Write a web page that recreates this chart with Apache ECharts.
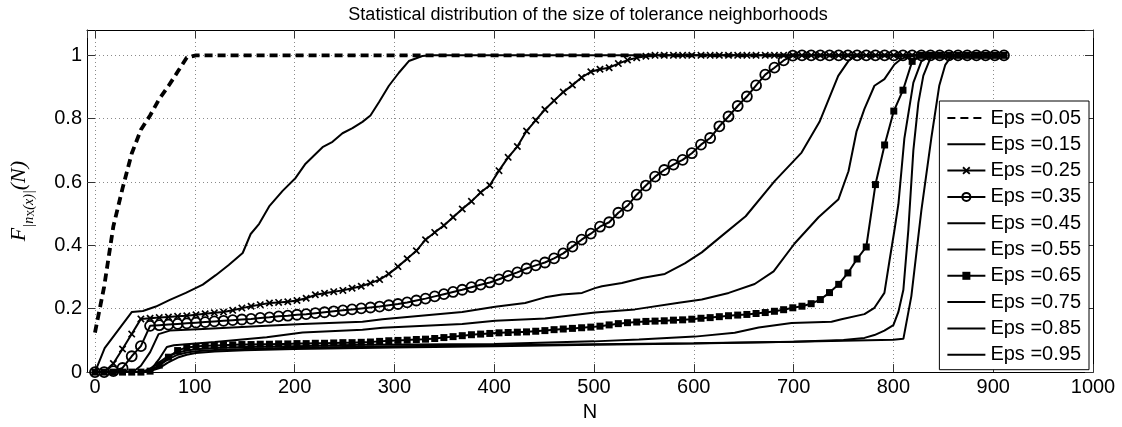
<!DOCTYPE html>
<html><head><meta charset="utf-8">
<script src="https://cdn.jsdelivr.net/npm/echarts@6/dist/echarts.min.js"></script>
<style>html,body{margin:0;padding:0;background:#fff}#c{width:1122px;height:427px}</style>
</head><body><div id="c"></div>
<script>
// Common sample grid of N (used by the marked series)
const N_GRID = [0, 9.2, 18.4, 27.6, 36.8, 46, 55.2, 64.4, 73.6, 82.8,
  92, 101.2, 110.4, 119.6, 128.8, 138, 147.2, 156.4, 165.6, 174.8,
  184, 193.2, 202.4, 211.6, 220.8, 230, 239.2, 248.4, 257.6, 266.8,
  276, 285.2, 294.4, 303.6, 312.8, 322, 331.2, 340.4, 349.6, 358.8,
  368, 377.2, 386.4, 395.6, 404.8, 414, 423.2, 432.4, 441.6, 450.8,
  460, 469.2, 478.4, 487.6, 496.8, 506, 515.2, 524.4, 533.6, 542.8,
  552, 561.2, 570.4, 579.6, 588.8, 598, 607.2, 616.4, 625.6, 634.8,
  644, 653.2, 662.4, 671.6, 680.8, 690, 699.2, 708.4, 717.6, 726.8,
  736, 745.2, 754.4, 763.6, 772.8, 782, 791.2, 800.4, 809.6, 818.8,
  828, 837.2, 846.4, 855.6, 864.8, 874, 883.2, 892.4, 901.6, 910.8];

const LEGEND_LABELS = ['Eps =0.05', 'Eps =0.15', 'Eps =0.25', 'Eps =0.35', 'Eps =0.45',
  'Eps =0.55', 'Eps =0.65', 'Eps =0.75', 'Eps =0.85', 'Eps =0.95'];

// [N, F] pairs for the plain line series
const F_005 = [[0, 0.125], [9.2, 0.27], [18.4, 0.46], [27.6, 0.58], [36.8, 0.69], [46, 0.765],
  [55.2, 0.81], [64.4, 0.862], [73.6, 0.903], [82.8, 0.948], [92, 0.993], [101.2, 1], [910.8, 1]];

const F_015 = [[0, 0], [9.7, 0.076], [37, 0.19], [48, 0.193], [61, 0.207], [75, 0.228], [91, 0.25],
  [108, 0.276], [121, 0.306], [134, 0.338], [148, 0.376], [156, 0.436], [164.5, 0.468], [174.5, 0.523],
  [188, 0.572], [201, 0.613], [211, 0.658], [228, 0.71], [238, 0.727], [248, 0.754], [258, 0.77],
  [268, 0.79], [276, 0.81], [284.5, 0.852], [294.5, 0.904], [304.5, 0.945], [314.5, 0.982],
  [328, 0.998], [336, 1], [910.8, 1]];

// values on N_GRID for the marked series
const F_025 = [0, 0, 0.027, 0.073, 0.12, 0.168, 0.170, 0.172, 0.174, 0.176,
  0.178, 0.181, 0.184, 0.187, 0.19, 0.195, 0.202, 0.208, 0.213, 0.218,
  0.220, 0.222, 0.226, 0.233, 0.244, 0.249, 0.254, 0.258, 0.265, 0.271,
  0.281, 0.292, 0.310, 0.333, 0.358, 0.383, 0.418, 0.441, 0.463, 0.489,
  0.515, 0.539, 0.567, 0.59, 0.636, 0.678, 0.712, 0.761, 0.795, 0.829,
  0.857, 0.884, 0.906, 0.93, 0.948, 0.956, 0.961, 0.974, 0.985, 0.992,
  0.997, 1, 1, 1, 1, 1, 1, 1, 1, 1,
  1, 1, 1, 1, 1, 1, 1, 1, 1, 1,
  1, 1, 1, 1, 1, 1, 1, 1, 1, 1,
  1, 1, 1, 1, 1, 1, 1, 1, 1, 1];

const F_035 = [0, 0, 0.003, 0.013, 0.05, 0.082, 0.146, 0.148, 0.150, 0.152,
  0.154, 0.156, 0.158, 0.160, 0.162, 0.164, 0.166, 0.168, 0.171, 0.173,
  0.176, 0.178, 0.181, 0.183, 0.186, 0.189, 0.192, 0.195, 0.198, 0.201,
  0.204, 0.207, 0.211, 0.215, 0.220, 0.226, 0.232, 0.239, 0.246, 0.253,
  0.260, 0.268, 0.276, 0.283, 0.293, 0.304, 0.315, 0.327, 0.337, 0.346,
  0.359, 0.375, 0.396, 0.418, 0.437, 0.459, 0.473, 0.503, 0.525, 0.560,
  0.589, 0.617, 0.638, 0.655, 0.670, 0.691, 0.718, 0.739, 0.776, 0.807,
  0.840, 0.870, 0.905, 0.939, 0.961, 0.984, 0.999, 1, 1, 1,
  1, 1, 1, 1, 1, 1, 1, 1, 1, 1,
  1, 1, 1, 1, 1, 1, 1, 1, 1, 1];

const F_045 = [[0, 0], [27.6, 0], [38.7, 0.002], [46, 0.02], [55.3, 0.063], [63.7, 0.12], [75, 0.131],
  [108, 0.136], [172, 0.146], [208, 0.152], [268, 0.159], [288, 0.167], [368, 0.19], [401, 0.206],
  [431, 0.218], [451, 0.236], [468, 0.245], [488, 0.25], [501, 0.265], [508, 0.271], [528, 0.281],
  [548, 0.297], [571, 0.31], [591, 0.343], [608, 0.378], [628, 0.43], [652, 0.492], [681, 0.603],
  [708, 0.693], [726, 0.79], [744.7, 0.935], [754.7, 0.981], [761, 0.999], [770, 1], [910.8, 1]];

const F_055 = [[0, 0], [46, 0], [55, 0.003], [64, 0.04], [72, 0.079], [79, 0.085], [120, 0.095],
  [172, 0.11], [208, 0.125], [268, 0.134], [288, 0.14], [368, 0.152], [401, 0.162], [451, 0.169],
  [501, 0.188], [541, 0.198], [585, 0.219], [608, 0.229], [635, 0.25], [661, 0.278], [680, 0.318],
  [701, 0.406], [725, 0.489], [745, 0.546], [755, 0.634], [763, 0.759], [771, 0.831], [781, 0.904],
  [791, 0.925], [801, 0.971], [808, 0.989], [815, 0.997], [822, 1], [910.8, 1]];

const F_065 = [0, 0, 0, 0, 0, 0, 0.003, 0.022, 0.047, 0.068,
  0.078, 0.081, 0.083, 0.084, 0.085, 0.086, 0.087, 0.087, 0.088, 0.088,
  0.089, 0.089, 0.090, 0.090, 0.091, 0.091, 0.092, 0.093, 0.093, 0.094,
  0.095, 0.097, 0.099, 0.100, 0.101, 0.103, 0.104, 0.106, 0.109, 0.112,
  0.115, 0.118, 0.120, 0.122, 0.124, 0.125, 0.126, 0.127, 0.129, 0.131,
  0.134, 0.136, 0.138, 0.140, 0.142, 0.145, 0.149, 0.153, 0.156, 0.158,
  0.160, 0.161, 0.162, 0.164, 0.165, 0.167, 0.170, 0.172, 0.175, 0.178,
  0.180, 0.182, 0.185, 0.188, 0.192, 0.197, 0.203, 0.208, 0.216, 0.229,
  0.251, 0.277, 0.313, 0.357, 0.395, 0.592, 0.717, 0.824, 0.890, 0.981,
  1, 1, 1, 1, 1, 1, 1, 1, 1, 1];

const F_075 = [[0, 0], [46, 0], [55, 0.01], [64, 0.03], [73, 0.05], [83, 0.062], [92, 0.068],
  [101, 0.072], [120, 0.076], [150, 0.079], [200, 0.082], [268, 0.086], [400, 0.089], [500, 0.097],
  [545, 0.103], [601, 0.112], [641, 0.124], [665, 0.141], [698, 0.155], [738, 0.159], [748, 0.167],
  [771, 0.183], [781, 0.203], [791, 0.25], [796, 0.35], [801, 0.447], [805, 0.53], [811, 0.738],
  [820, 0.914], [828, 0.981], [838, 1], [910.8, 1]];

const F_085 = [[0, 0], [46, 0], [55, 0.005], [64, 0.02], [73, 0.04], [83, 0.055], [92, 0.062],
  [101, 0.066], [120, 0.07], [150, 0.073], [200, 0.077], [300, 0.082], [400, 0.085], [500, 0.088],
  [600, 0.091], [700, 0.096], [750, 0.101], [771, 0.108], [781, 0.117], [791, 0.131], [800, 0.148],
  [805, 0.19], [810, 0.26], [815, 0.45], [820, 0.7], [825, 0.85], [830, 0.936], [838, 0.998],
  [846, 1], [910.8, 1]];

const F_095 = [[0, 0], [46, 0], [55, 0.003], [64, 0.012], [73, 0.03], [83, 0.046], [92, 0.055],
  [101, 0.06], [120, 0.065], [150, 0.069], [200, 0.073], [300, 0.078], [400, 0.082], [500, 0.086],
  [600, 0.09], [700, 0.096], [800, 0.102], [810, 0.105], [818, 0.24], [828, 0.51], [838, 0.739],
  [846, 0.905], [852, 0.97], [858, 0.997], [866, 1], [910.8, 1]];

const onGrid = vals => vals.map((v, i) => [N_GRID[i], v]);
const CROSS = 'path://M0,1.6L1.6,0L5,3.4L8.4,0L10,1.6L6.6,5L10,8.4L8.4,10L5,6.6L1.6,10L0,8.4L3.4,5Z';
const SANS = '"Liberation Sans", Arial, Helvetica, sans-serif';
const SERIF = '"Liberation Serif", "Times New Roman", serif';

function plain(name, data, lineExtra) {
  return {
    name, type: 'line', data, symbol: 'none', showSymbol: false,
    lineStyle: Object.assign({ color: '#000', width: 2 }, lineExtra || {}),
    itemStyle: { color: '#000', opacity: 0 },
    emphasis: { disabled: true }, animation: false, z: 2
  };
}
function marked(name, data, symbol, size, itemStyle) {
  return {
    name, type: 'line', data, symbol, symbolSize: size, showSymbol: true,
    lineStyle: { color: '#000', width: 2 },
    itemStyle, emphasis: { disabled: true }, animation: false, z: 2
  };
}

const series = [
  plain(LEGEND_LABELS[0], F_005, { width: 3.8, type: [8, 5] }),
  plain(LEGEND_LABELS[1], F_015),
  marked(LEGEND_LABELS[2], onGrid(F_025), CROSS, 7.5, { color: '#000' }),
  marked(LEGEND_LABELS[3], onGrid(F_035), 'circle', 10,
    { color: 'rgba(255,255,255,0)', borderColor: '#000', borderWidth: 1.8 }),
  plain(LEGEND_LABELS[4], F_045),
  plain(LEGEND_LABELS[5], F_055),
  marked(LEGEND_LABELS[6], onGrid(F_065), 'rect', 7, { color: '#000' }),
  plain(LEGEND_LABELS[7], F_075),
  plain(LEGEND_LABELS[8], F_085),
  plain(LEGEND_LABELS[9], F_095)
];

const gridLine = { show: true, lineStyle: { color: '#8a8a8a', width: 1, type: [1, 3] } };
const axisLine = { show: true, onZero: false, lineStyle: { color: '#000', width: 1 } };
const tick = { show: true, inside: true, length: 8, lineStyle: { color: '#333', width: 1 } };

const chart = echarts.init(document.getElementById('c'), null, { renderer: 'canvas' });
chart.setOption({
  animation: false,
  backgroundColor: '#fff',
  title: {
    text: 'Statistical distribution of the size of tolerance neighborhoods',
    left: 588, textAlign: 'center', top: 6, padding: 0,
    textStyle: { fontFamily: SANS, fontSize: 18, fontWeight: 'normal', color: '#000' }
  },
  grid: { left: 84, right: 29, top: 30, bottom: 49, containLabel: false },
  xAxis: [{
    type: 'value', min: -8, max: 1000, splitNumber: 10, position: 'bottom',
    name: 'N', nameLocation: 'middle', nameGap: 26,
    nameTextStyle: { fontFamily: SANS, fontSize: 20, color: '#000' },
    axisLine, axisTick: tick, splitLine: gridLine,
    axisLabel: { showMinLabel: false, margin: 5, fontFamily: SANS, fontSize: 20, color: '#000',
      formatter: v => String(Math.round(v)) }
  }, {
    type: 'value', min: -8, max: 1000, splitNumber: 10, position: 'top',
    axisLine, axisTick: tick, splitLine: { show: false }, axisLabel: { show: false }
  }],
  yAxis: [{
    type: 'value', min: 0, max: 1.08, interval: 0.2, position: 'left',
    name: '{f|F}{s||n}{ss|X}{s|(x)|}{f|(N)}', nameLocation: 'middle', nameGap: 51, nameRotate: 90,
    nameTextStyle: {
      rich: {
        f: { fontFamily: SERIF, fontStyle: 'italic', fontSize: 22, lineHeight: 34, verticalAlign: 'middle', color: '#000' },
        s: { fontFamily: SERIF, fontStyle: 'italic', fontSize: 14, lineHeight: 18, verticalAlign: 'bottom', color: '#000' },
        ss: { fontFamily: SERIF, fontSize: 10, lineHeight: 10, verticalAlign: 'bottom', color: '#000' }
      }
    },
    axisLine, axisTick: tick, splitLine: gridLine,
    axisLabel: {
      showMaxLabel: false, margin: 5, fontFamily: SANS, fontSize: 20, color: '#000',
      formatter: v => String(Math.round(v * 10) / 10)
    }
  }, {
    type: 'value', min: 0, max: 1.08, interval: 0.2, position: 'right',
    axisLine, axisTick: tick, splitLine: { show: false }, axisLabel: { show: false }
  }],
  legend: {
    orient: 'vertical', right: 33, top: 101,
    data: LEGEND_LABELS, selectedMode: false,
    itemWidth: 38, itemHeight: 10, itemGap: 6.3,
    padding: [7, 8, 5, 7],
    backgroundColor: '#fff', borderColor: '#000', borderWidth: 1, borderRadius: 0,
    textStyle: { fontFamily: SANS, fontSize: 20, lineHeight: 20, color: '#000' }
  },
  series
});
</script>
</body></html>
